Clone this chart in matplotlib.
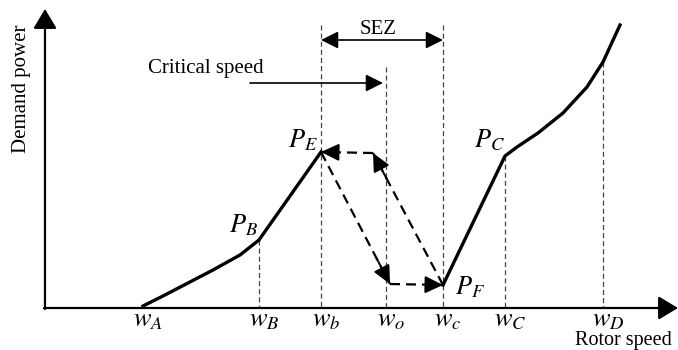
import matplotlib.pyplot as plt

plt.rcParams['font.family'] = ['Liberation Serif', 'DejaVu Serif']
plt.rcParams['mathtext.fontset'] = 'stix'

# positions on the speed axis (pixel-like units of the sketch)
speed_names = ["w_A", "w_B", "w_b", "w_o", "w_c", "w_C", "w_D"]
speed_x = [143, 259, 321, 386, 443, 505, 603]
guide_top = [None, 240, 25, 67, 25, 156, 62]   # where each dashed guide stops

# demand power curve, left branch (w_A -> P_B -> P_E)
left_x = [143, 163, 188, 213, 240, 259, 321]
left_y = [306, 296, 283, 270, 255, 240, 152]
# right branch (P_F -> P_C -> ...)
right_x = [443, 505, 517, 538, 563, 587, 603, 620]
right_y = [285, 156, 147, 133, 113, 87, 62, 25]

# hysteresis path points
P_E = (321, 152)
P_F = (443, 285)
low_corner = (390, 284)
high_corner = (373, 153)

point_names = ["P_B", "P_E", "P_C", "P_F"]
point_xy = [(258, 238), (318, 153), (505, 153), (455, 300)]
point_ha = ["right", "right", "right", "left"]

axis_y0 = 308
axis_x0 = 45

fig = plt.figure(figsize=(6.78, 3.5), dpi=100)
ax = fig.add_axes([0, 0, 1, 1])
ax.set_xlim(0, 678)
ax.set_ylim(350, 0)
ax.axis('off')

axis_kw = dict(arrowstyle='-|>,head_length=0.5,head_width=0.3', color='k', lw=1.6,
               mutation_scale=24, shrinkA=0, shrinkB=0)
head_kw = dict(arrowstyle='-|>,head_length=0.5,head_width=0.24', color='k', lw=1.4,
               mutation_scale=22, shrinkA=0, shrinkB=0)

# axes with arrows
ax.annotate('', xy=(axis_x0, 9), xytext=(axis_x0, axis_y0 + 1), arrowprops=axis_kw)
ax.annotate('', xy=(678, axis_y0), xytext=(axis_x0 - 1, axis_y0), arrowprops=axis_kw)
ax.text(22, 89, "Demand power", rotation=90, ha='center', va='center', fontsize=15)
ax.text(575, 345, "Rotor speed", ha='left', va='baseline', fontsize=14.5)

# dashed guides and speed labels
for name, x, top in zip(speed_names, speed_x, guide_top):
    if top is not None:
        ax.plot([x, x], [top, axis_y0], color='#444444', lw=0.9, ls=(0, (4, 2.5)))
    ax.text(x + 5, axis_y0 + 2, "$" + name + "$", ha='center', va='top', fontsize=19)

# demand power curve
ax.plot(left_x, left_y, color='k', lw=2.4, solid_joinstyle='miter')
ax.plot(right_x, right_y, color='k', lw=2.4, solid_joinstyle='miter')

for name, (x, y), ha in zip(point_names, point_xy, point_ha):
    ax.text(x, y, "$" + name + "$", ha=ha, va='bottom', fontsize=19)

# hysteresis loop: dashed lines with solid heads
dash = (0, (4.5, 2.7))
segments = [(P_E, low_corner), (low_corner, P_F), (P_F, high_corner), (high_corner, P_E)]
for (x0, y0), (x1, y1) in segments:
    ax.plot([x0, x1], [y0, y1], color='k', lw=1.6, ls=dash)
    fx = x1 - (x1 - x0) * 0.2
    fy = y1 - (y1 - y0) * 0.2
    ax.annotate('', xy=(x1, y1), xytext=(fx, fy), arrowprops=head_kw)

# SEZ double arrow
sez_kw = dict(arrowstyle='<|-|>,head_length=0.5,head_width=0.25', color='k', lw=1.2,
              mutation_scale=21, shrinkA=0, shrinkB=0)
ax.annotate('', xy=(speed_x[4], 40), xytext=(speed_x[2], 40), arrowprops=sez_kw)
ax.text(378, 30, "SEZ", ha='center', va='center', fontsize=15)

# critical speed pointer
crit_kw = dict(arrowstyle='-|>,head_length=0.5,head_width=0.25', color='k', lw=1.2,
               mutation_scale=21, shrinkA=0, shrinkB=0)
ax.annotate('', xy=(383, 83), xytext=(250, 83), arrowprops=crit_kw)
ax.text(148, 68, "Critical speed", ha='left', va='center', fontsize=15)

fig.savefig("out.png", dpi=100)
